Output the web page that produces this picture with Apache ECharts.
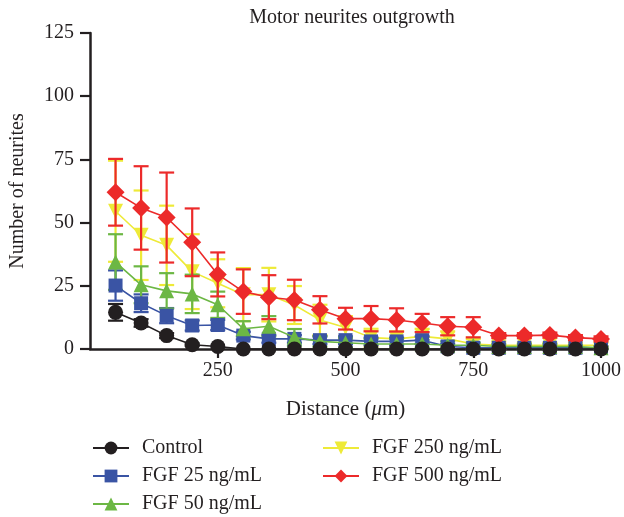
<!DOCTYPE html>
<html><head><meta charset="utf-8">
<script src="https://cdn.jsdelivr.net/npm/echarts@6/dist/echarts.min.js"></script>
<style>html,body{margin:0;padding:0;background:#fff}#c{width:624px;height:517px}</style>
</head><body><div id="c"></div>
<script>
const distances = [50,100,150,200,250,300,350,400,450,500,550,600,650,700,750,800,850,900,950,1000];
const xTicks = [250,500,750,1000];
const yTicks = [0,25,50,75,100,125];
const seriesNames = ['Control','FGF 25 ng/mL','FGF 50 ng/mL','FGF 250 ng/mL','FGF 500 ng/mL'];
const control = [14.5,10.3,5.3,1.7,1,0,0,0,0,0,0,0,0,0,0,0,0,0,0,0];
const controlErr = [3.3,1.5,1,0.5,0,0,0,0,0,0,0,0,0,0,0,0,0,0,0,0];
const fgf25 = [25.1,18.1,13.2,9.3,9.5,5.3,4,4,3.5,3.5,3,3,3.5,1,0.5,0.5,0.5,0.5,0.5,0.5];
const fgf25Err = [6,3.5,3,2,2,1.5,1.5,1.5,1.5,1.5,1.5,1.5,1.5,1,0.5,0.5,0.5,0.5,0.5,0.5];
const fgf50 = [34.4,25.4,23,21.8,17.5,8,9,4.6,3,2.5,2,2,2,1.5,1.5,1,1,1,1,0.5];
const fgf50Err = [11,7.3,7,7.6,5.2,3,4,3.3,2,2,2,2,1.5,1.5,1,1,1,1,0.5,0.5];
const fgf250 = [54.5,45,41,30.6,26,21.5,21.5,17.4,11.5,8.5,4.5,4,5,4,2,1.5,1.5,1.5,1.5,1.5];
const fgf250Err = [20,17.7,15.7,14.8,9.5,10.5,10.6,7.5,6,4.5,3.5,3,3,3,2,1.5,1,1,1,1];
const fgf500 = [62,55.8,52,42.2,29.5,22.7,20.5,19.4,15.5,12,12,11.5,10.3,9,8.6,5.3,5.3,5.5,4.5,4];
const fgf500Err = [13.2,16.5,17.8,13.4,8.7,8.8,8.7,8,5.4,4.3,5,4.6,3.6,3.6,4,1,1,1,1,1];

const FONT = 'Liberation Serif';
const FS = 20;
const TXT = '#231f20';
const groups = [
  {name: seriesNames[0], vals: control, errs: controlErr, color:'#231f20', symbol:'circle', size:15, rot:0, z:10},
  {name: seriesNames[1], vals: fgf25, errs: fgf25Err, color:'#3a54a4', symbol:'rect', size:14, rot:0, z:6},
  {name: seriesNames[2], vals: fgf50, errs: fgf50Err, color:'#6cb744', symbol:'triangle', size:15, rot:0, z:7},
  {name: seriesNames[3], vals: fgf250, errs: fgf250Err, color:'#eeea38', symbol:'triangle', size:15, rot:180, z:4},
  {name: seriesNames[4], vals: fgf500, errs: fgf500Err, color:'#ec2a2a', symbol:'diamond', size:18, rot:0, z:8}
];

const series = [];
groups.forEach(g => {
  series.push({
    type:'custom', name: g.name + ' err', z: g.z - 1, silent:true,
    data: distances.map((d,i)=>[d, g.vals[i], g.errs[i]]),
    renderItem: function(params, api){
      const x = api.value(0), y = api.value(1), e = api.value(2);
      if (!e) return null;
      const t = api.coord([x, y+e]), b = api.coord([x, Math.max(0,y-e)]);
      const hw = 7.5, st = {stroke: g.color, lineWidth: 2.2};
      return {type:'group', children:[
        {type:'line', shape:{x1:t[0],y1:t[1],x2:b[0],y2:b[1]}, style:st},
        {type:'line', shape:{x1:t[0]-hw,y1:t[1],x2:t[0]+hw,y2:t[1]}, style:st},
        {type:'line', shape:{x1:b[0]-hw,y1:b[1],x2:b[0]+hw,y2:b[1]}, style:st}
      ]};
    }
  });
  series.push({
    type:'line', name: g.name, z: g.z,
    data: distances.map((d,i)=>[d, g.vals[i]]),
    symbol: g.symbol, symbolSize: g.size, symbolRotate: g.rot, showAllSymbol:true,
    lineStyle:{color:g.color, width:1.6},
    itemStyle:{color:g.color, borderWidth:0},
    animation:false
  });
});

const legendText = {fontFamily:FONT, fontSize:FS, color:TXT, lineHeight:20, padding:[0,0,0,8]};
const chart = echarts.init(document.getElementById('c'), null, {renderer:'canvas'});
chart.setOption({
  animation:false,
  backgroundColor:'#fff',
  title:{text:'Motor neurites outgrowth', left:347, top:3, textAlign:'center',
    textStyle:{fontFamily:FONT, fontSize:FS, fontWeight:'normal', color:TXT}},
  grid:{left:90, top:33, right:20, bottom:168, containLabel:false},
  xAxis:{type:'value', min:0, max:1000, interval:250,
    name:'Distance ({i|μ}m)', nameLocation:'middle', nameGap:50,
    nameTextStyle:{fontFamily:FONT, fontSize:FS+1, color:TXT, rich:{i:{fontFamily:FONT, fontStyle:'italic', fontSize:FS+1, color:TXT}}},
    axisLine:{lineStyle:{color:TXT, width:2.5}},
    axisTick:{show:true, length:9, lineStyle:{color:TXT, width:2.2}, customValues: xTicks},
    axisLabel:{fontFamily:FONT, fontSize:FS, color:TXT, margin:12, customValues: xTicks,
      formatter: v => String(v)},
    splitLine:{show:false}},
  yAxis:{type:'value', min:0, max:125, interval:25,
    name:'Number of neurites', nameLocation:'middle', nameGap:62, nameRotate:90,
    nameTextStyle:{fontFamily:FONT, fontSize:FS, color:TXT},
    axisLine:{show:true, lineStyle:{color:TXT, width:2.5}},
    axisTick:{show:true, length:10, lineStyle:{color:TXT, width:2.2}},
    axisLabel:{fontFamily:FONT, fontSize:FS, color:TXT, margin:16, formatter: v => String(v)},
    splitLine:{show:false}},
  legend:[
    {data: seriesNames.slice(0,3), orient:'vertical', left:87, top:433, height:110, itemWidth:36, itemHeight:16, itemGap:8,
      textStyle:legendText},
    {data: seriesNames.slice(3), orient:'vertical', left:317, top:433, height:110, itemWidth:36, itemHeight:16, itemGap:8,
      textStyle:legendText}
  ],
  series: series
});
</script></body></html>
